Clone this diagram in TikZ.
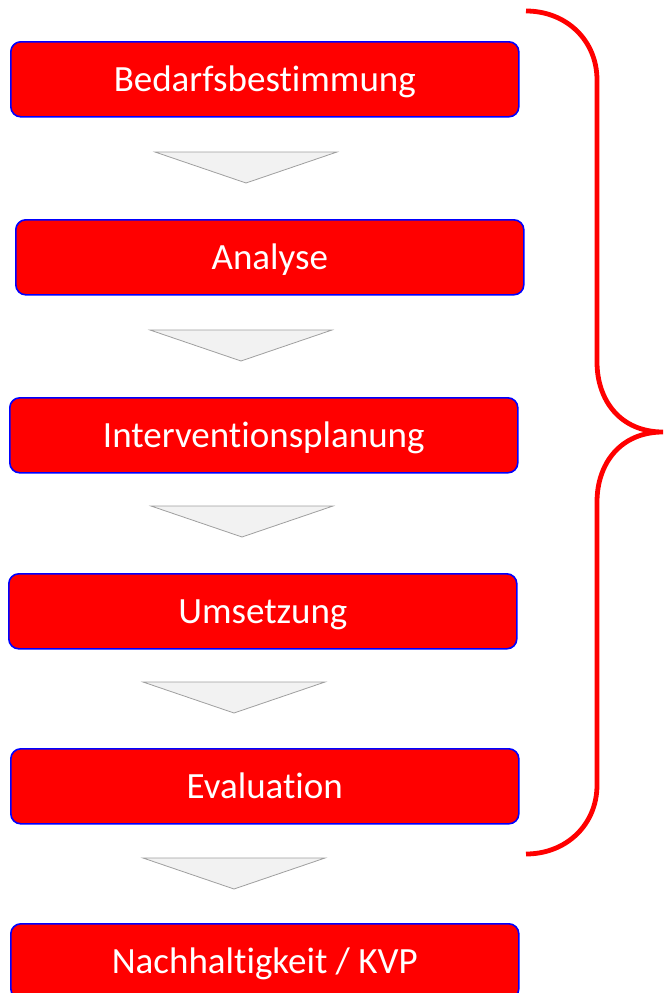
\documentclass[tikz,border=0pt]{standalone}
\usepackage{fontspec}
\setmainfont{Carlito}[Ligatures={NoCommon}]
\begin{document}
\begin{tikzpicture}[x=1pt,y=-1pt,
  stepbox/.style={draw=blue, line width=1.6pt, fill=red, rounded corners=10pt,
    minimum width=508pt, minimum height=75pt, inner sep=0pt, text=white,
    text height=26pt, text depth=2pt,
    font=\fontsize{37}{42}\selectfont, anchor=north west},
  tri/.style={draw=gray!75, line width=0.8pt, fill=gray!10},
  brace/.style={draw=red, line width=4.8pt}]
\useasboundingbox (0,0) rectangle (664,993);
\clip (0,0) rectangle (664,993);
\node[stepbox] (b1) at (10,41) {Bedarfsbestimmung};
\node[stepbox] (b2) at (15,219) {Analyse};
\node[stepbox] (b3) at (9,397) {Interventionsplanung};
\node[stepbox] (b4) at (8,573) {Umsetzung};
\node[stepbox] (b5) at (10,748) {Evaluation};
\node[stepbox] (b6) at (10,923) {Nachhaltigkeit / KVP};
\coordinate (t1) at (155,152);
\coordinate (t2) at (150,330);
\coordinate (t3) at (151,506);
\coordinate (t4) at (143,682);
\coordinate (t5) at (143,858);
\foreach \t in {t1,t2,t3,t4,t5}{
  \draw[tri] (\t) -- ++(182,0) -- ++(-91,31) -- cycle;
}
\coordinate (bs) at (526,11);
\coordinate (bc) at (663,432);
\coordinate (be) at (526,854);
\draw[brace] (bs) .. controls (566,11) and (597,40) .. (597,80)
  -- (597,362) .. controls (597,400) and (620,432) .. (bc)
  .. controls (620,432) and (597,464) .. (597,502)
  -- (597,785) .. controls (597,825) and (566,854) .. (be);
\end{tikzpicture}
\end{document}
